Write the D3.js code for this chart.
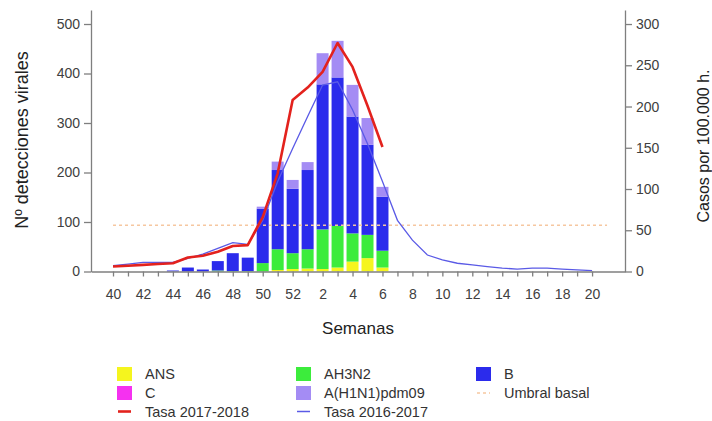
<!DOCTYPE html>
<html>
<head>
<meta charset="utf-8">
<script src="https://cdn.jsdelivr.net/npm/d3@7/dist/d3.min.js"></script>
<style>
  body { margin: 0; background: #fff; }
  svg text { font-family: "Liberation Sans", Arial, sans-serif; fill: #404040; }
</style>
</head>
<body>
<div id="chart"></div>
<script>
// weeks of the season (40..52, then 1..20)
var weeks = [40,41,42,43,44,45,46,47,48,49,50,51,52,1,2,3,4,5,6,7,8,9,10,11,12,13,14,15,16,17,18,19,20];

// viral detections per week (stacked bars), up to week 6
var ans   = [0,0,0,0,0,0,0,0,0,0,0,3,5,6,5,8,20,27,8];
var c     = [0,0,0,0,0,0,0,0,0,0,0,0,0,0,0,0,0,0,0];
var ah3n2 = [0,0,0,0,0,0,0,2,1,1,17,42,32,39,80,84,57,47,34];
var b     = [0,0,0,0,2,8,4,19,36,27,110,160,130,160,293,300,236,182,109];
var h1n1  = [0,0,0,0,0,0,0,0,0,0,4,17,18,16,63,74,64,54,20];

// rates per 100.000 h.
var tasa_1718 = [6,7,8,9,10,17,19,24,31,32,66,119,208,223,242,277,248,201,151];
var tasa_1617 = [7,9,11,11,11,16,21,28,35,33,62,109,149,188,226,230,196,155,109,62,38,20,14,10,8,6,4,3,4,4,3,2,1];
var umbral_basal = 56;

var left_ticks = [0,100,200,300,400,500];
var right_ticks = [0,50,100,150,200,250,300];

var series = [
  { key: 'ans',   name: 'ANS',           color: '#f5f51e' },
  { key: 'c',     name: 'C',             color: '#f531f0' },
  { key: 'ah3n2', name: 'AH3N2',         color: '#3cec3c' },
  { key: 'b',     name: 'B',             color: '#2b2bec' },
  { key: 'h1n1',  name: 'A(H1N1)pdm09',  color: '#a48cf4' }
];

var table = ans.map(function(d, i){
  return { i: i, ans: ans[i], c: c[i], ah3n2: ah3n2[i], b: b[i], h1n1: h1n1[i] };
});

var width = 712, height = 421;

var svg = d3.select('#chart').append('svg')
  .attr('width', width)
  .attr('height', height);

var x = d3.scaleLinear().domain([-1.47, 34.2]).range([91, 625]);
var y_left = d3.scaleLinear().domain([0, 528.3]).range([271.5, 10]);
var y_right = d3.scaleLinear().domain([0, 317]).range([271.5, 10]);
var bar_width = 12;

// bars
var stack = d3.stack().keys(series.map(function(s){ return s.key; }));
var stacked = stack(table);

svg.append('g').attr('class', 'bars')
  .selectAll('g')
  .data(stacked)
  .enter().append('g')
    .attr('fill', function(d, k){ return series[k].color; })
  .selectAll('rect')
  .data(function(d){ return d; })
  .enter().append('rect')
    .attr('x', function(d){ return x(d.data.i) - bar_width/2; })
    .attr('y', function(d){ return y_left(d[1]); })
    .attr('width', bar_width)
    .attr('height', function(d){ return y_left(d[0]) - y_left(d[1]); });

// umbral basal
svg.append('line')
  .attr('x1', x(0))
  .attr('x2', x(33))
  .attr('y1', y_right(umbral_basal))
  .attr('y2', y_right(umbral_basal))
  .attr('stroke', '#f6c7a0')
  .attr('stroke-width', 1.5)
  .attr('stroke-dasharray', '3,3');

// rate lines
var line = d3.line()
  .x(function(d, i){ return x(i); })
  .y(function(d){ return y_right(d); });

svg.append('path')
  .datum(tasa_1617)
  .attr('d', line)
  .attr('fill', 'none')
  .attr('stroke', '#5a5ae6')
  .attr('stroke-width', 1.3);

svg.append('path')
  .datum(tasa_1718)
  .attr('d', line)
  .attr('fill', 'none')
  .attr('stroke', '#e3221d')
  .attr('stroke-width', 2.6)
  .attr('stroke-linejoin', 'round');

// axes
var axis_color = '#7f7f7f';

var x_axis = svg.append('g')
  .attr('transform', 'translate(0,' + y_left(0) + ')')
  .call(d3.axisBottom(x)
    .tickValues(d3.range(weeks.length))
    .tickSize(5)
    .tickSizeOuter(0)
    .tickFormat(function(i){ return i % 2 === 0 ? weeks[i] : ''; }));
x_axis.selectAll('text').attr('font-size', '14px').attr('dy', '1.4em');

var y_axis_left = svg.append('g')
  .attr('transform', 'translate(' + x(-1.47) + ',0)')
  .call(d3.axisLeft(y_left).tickValues(left_ticks).tickSize(7).tickSizeOuter(0).tickPadding(4));
y_axis_left.selectAll('text').attr('font-size', '14px');

var y_axis_right = svg.append('g')
  .attr('transform', 'translate(' + x(34.2) + ',0)')
  .call(d3.axisRight(y_right).tickValues(right_ticks).tickSize(7).tickSizeOuter(0).tickPadding(4));
y_axis_right.selectAll('text').attr('font-size', '14px');

svg.selectAll('.domain, .tick line')
  .attr('stroke', axis_color)
  .attr('stroke-width', 1.3);

// axis titles
svg.append('text')
  .attr('transform', 'translate(28,140) rotate(-90)')
  .attr('text-anchor', 'middle')
  .attr('font-size', '18px')
  .style('fill', '#222')
  .text('Nº detecciones virales');

svg.append('text')
  .attr('transform', 'translate(709,146) rotate(-90)')
  .attr('text-anchor', 'middle')
  .attr('font-size', '16px')
  .style('fill', '#222')
  .text('Casos por 100.000 h.');

svg.append('text')
  .attr('x', 358)
  .attr('y', 334)
  .attr('text-anchor', 'middle')
  .attr('font-size', '17px')
  .style('fill', '#222')
  .text('Semanas');

// legend
var legend_items = [
  { name: 'ANS',            color: '#f5f51e', type: 'rect',   col: 0, row: 0 },
  { name: 'C',              color: '#f531f0', type: 'rect',   col: 0, row: 1 },
  { name: 'Tasa 2017-2018', color: '#e3221d', type: 'line',   col: 0, row: 2, w: 2.6 },
  { name: 'AH3N2',          color: '#3cec3c', type: 'rect',   col: 1, row: 0 },
  { name: 'A(H1N1)pdm09',   color: '#a48cf4', type: 'rect',   col: 1, row: 1 },
  { name: 'Tasa 2016-2017', color: '#5a5ae6', type: 'line',   col: 1, row: 2, w: 1.5 },
  { name: 'B',              color: '#2b2bec', type: 'rect',   col: 2, row: 0 },
  { name: 'Umbral basal',   color: '#f6c7a0', type: 'dash',   col: 2, row: 1, w: 1.5 }
];
var legend_cols = [117, 296, 476];
var legend_rows = [374, 393, 411.5];

var legend = svg.append('g').attr('class', 'legend');
legend_items.forEach(function(item){
  var lx = legend_cols[item.col];
  var ly = legend_rows[item.row];
  if(item.type === 'rect'){
    legend.append('rect')
      .attr('x', lx).attr('y', ly - 7)
      .attr('width', 15).attr('height', 14)
      .attr('fill', item.color);
  }else{
    legend.append('line')
      .attr('x1', lx + 1).attr('x2', lx + 14)
      .attr('y1', ly).attr('y2', ly)
      .attr('stroke', item.color)
      .attr('stroke-width', item.w)
      .attr('stroke-dasharray', item.type === 'dash' ? '3,3' : null);
  }
  legend.append('text')
    .attr('x', lx + 28)
    .attr('y', ly + 5)
    .attr('font-size', '14.5px')
    .style('fill', '#333')
    .text(item.name);
});
</script>
</body>
</html>
